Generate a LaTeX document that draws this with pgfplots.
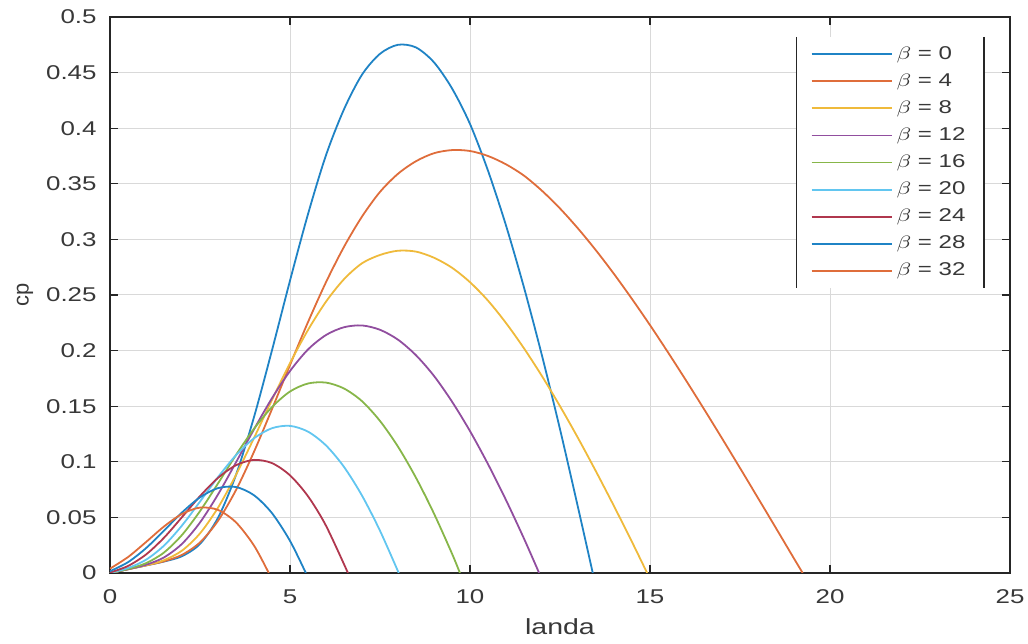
\documentclass[border=0pt]{standalone}
\usepackage{fontspec}
\setmainfont{Liberation Sans}
\usepackage{graphicx}
\usepackage{pgfplots}
\pgfplotsset{compat=1.18}
\definecolor{mb}{RGB}{0,114,189}
\definecolor{mo}{RGB}{217,83,25}
\definecolor{my}{RGB}{237,177,32}
\definecolor{mp}{RGB}{126,47,142}
\definecolor{mg}{RGB}{119,172,48}
\definecolor{mc}{RGB}{77,190,238}
\definecolor{mr}{RGB}{162,20,47}
\definecolor{axc}{RGB}{38,38,38}
\newcommand\sx[1]{\scalebox{1.3}[1]{#1}}
\begin{document}
\begin{tikzpicture}
\begin{axis}[
  scale only axis,
  width=450bp, height=278bp,
  xmin=0, xmax=25, ymin=0, ymax=0.5,
  xtick={0,5,10,15,20,25},
  ytick={0,0.05,0.1,0.15,0.2,0.25,0.3,0.35,0.4,0.45,0.5},
  yticklabels={\sx{0},\sx{0.05},\sx{0.1},\sx{0.15},\sx{0.2},\sx{0.25},\sx{0.3},\sx{0.35},\sx{0.4},\sx{0.45},\sx{0.5}},
  xticklabels={\sx{0},\sx{5},\sx{10},\sx{15},\sx{20},\sx{25}},
  tick align=inside, tick pos=both,
  major tick length=4bp,
  every tick/.style={axc, line width=0.6bp},
  axis line style={axc, line width=0.6bp},
  grid=major,
  major grid style={line width=0.5bp, draw=black!15},
  tick label style={font=\fontsize{10}{11}\selectfont, text=black!78},
  xticklabel style={anchor=center, yshift=-12bp},
  yticklabel style={xshift=-3.2bp},
  /pgf/number format/assume math mode=true,
  xlabel={\sx{landa}}, ylabel={cp},
  every axis x label/.style={at={(axis description cs:0.5,0)}, anchor=center, yshift=-27bp, font=\fontsize{11}{12}\selectfont, text=black!78},
  every axis y label/.style={at={(axis description cs:0,0.5)}, anchor=center, rotate=90, yshift=42.5bp, font=\fontsize{11}{12}\selectfont, text=black!78},
  legend cell align=left,
  legend style={name=leg, at={(0.971,0.964)}, anchor=north east, draw=none, fill=white,
    font=\fontsize{9.3}{10}\selectfont, text=black!78, row sep=1.6bp, inner xsep=7bp, inner ysep=2.5bp},
  legend image code/.code={\draw[#1, line width=0.9bp] (0bp,0bp) -- (40bp,0bp);},
  every axis plot/.append style={line width=0.9bp, smooth, tension=0.5},
]
\addplot[mb!88!white] coordinates {(0,0) (0.5,0.0034) (1,0.0068) (1.5,0.0103) (2,0.0151) (2.5,0.0261) (3,0.0496) (3.5,0.0882) (4,0.1402) (4.5,0.2003) (5,0.2629) (5.5,0.3227) (6,0.3757) (6.5,0.4170) (7,0.4481) (7.5,0.4669) (8,0.4750) (8.5,0.4726) (9,0.4592) (9.5,0.4358) (10,0.4038) (10.5,0.3618) (11,0.3125) (11.5,0.2567) (12,0.1954) (12.5,0.1293) (13,0.0590) (13.41,0)};
\addlegendentry{\sx{$\beta$ = 0}}
\addplot[mo!85!white] coordinates {(0,0) (1,0.0068) (1.5,0.0105) (2,0.0163) (2.5,0.0275) (3,0.0469) (3.5,0.0746) (4,0.1090) (4.5,0.1474) (5,0.1870) (5.5,0.2256) (6,0.2615) (6.5,0.2933) (7,0.3205) (7.5,0.3427) (8,0.3590) (8.5,0.3703) (9,0.3775) (9.5,0.3803) (10,0.3795) (10.5,0.3750) (11,0.3675) (11.5,0.3573) (12,0.3437) (12.5,0.3278) (13,0.3098) (13.5,0.2901) (14,0.2689) (14.5,0.2464) (15,0.2229) (15.5,0.1984) (16,0.1732) (16.5,0.1474) (17,0.1211) (17.5,0.0944) (18,0.0674) (18.5,0.0403) (19,0.0130) (19.24,0)};
\addlegendentry{\sx{$\beta$ = 4}}
\addplot[my!88!white] coordinates {(0,0) (1,0.0069) (1.5,0.0115) (2,0.0201) (2.5,0.0356) (3,0.0587) (3.5,0.0882) (4,0.1214) (4.5,0.1557) (5,0.1887) (5.5,0.2185) (6,0.2440) (6.5,0.2642) (7,0.2785) (7.5,0.2860) (8,0.2898) (8.5,0.2890) (9,0.2835) (9.5,0.2745) (10,0.2615) (10.5,0.2449) (11,0.2248) (11.5,0.2020) (12,0.1770) (12.5,0.1500) (13,0.1214) (13.5,0.0913) (14,0.0601) (14.5,0.0279) (14.92,0)};
\addlegendentry{\sx{$\beta$ = 8}}
\addplot[mp!85!white] coordinates {(0,0) (0.5,0.0034) (1,0.0074) (1.5,0.0140) (2,0.0262) (2.5,0.0454) (3,0.0706) (3.5,0.0995) (4,0.1292) (4.5,0.1572) (5,0.1816) (5.5,0.2010) (6,0.2140) (6.5,0.2210) (7,0.2226) (7.5,0.2187) (8,0.2098) (8.5,0.1958) (9,0.1772) (9.5,0.1541) (10,0.1276) (10.5,0.0979) (11,0.0656) (11.5,0.0309) (11.92,0)};
\addlegendentry{\sx{$\beta$ = 12}}
\addplot[mg!88!white] coordinates {(0,0) (0.5,0.0036) (1,0.0088) (1.5,0.0184) (2,0.0342) (2.5,0.0556) (3,0.0805) (3.5,0.1061) (4,0.1297) (4.5,0.1492) (5,0.1632) (5.5,0.1704) (6,0.1712) (6.5,0.1659) (7,0.1545) (7.5,0.1367) (8,0.1136) (8.5,0.0856) (9,0.0534) (9.5,0.0174) (9.72,0)};
\addlegendentry{\sx{$\beta$ = 16}}
\addplot[mc!88!white] coordinates {(0,0.0001) (0.5,0.0044) (1,0.0119) (1.5,0.0246) (2,0.0427) (2.5,0.0642) (3,0.0862) (3.5,0.1059) (4,0.1211) (4.5,0.1302) (5,0.1323) (5.5,0.1271) (6,0.1147) (6.5,0.0954) (7,0.0696) (7.5,0.0380) (8.02,0)};
\addlegendentry{\sx{$\beta$ = 20}}
\addplot[mr!85!white] coordinates {(0,0.0004) (0.5,0.0063) (1,0.0166) (1.5,0.0317) (2,0.0502) (2.5,0.0691) (3,0.0855) (3.5,0.0969) (4,0.1017) (4.5,0.0988) (5,0.0878) (5.5,0.0690) (6,0.0425) (6.61,0)};
\addlegendentry{\sx{$\beta$ = 24}}
\addplot[mb!88!white] coordinates {(0,0.0016) (0.5,0.0097) (1,0.0223) (1.5,0.0381) (2,0.0544) (2.5,0.0680) (3,0.0763) (3.5,0.0773) (4,0.0699) (4.5,0.0538) (5,0.0289) (5.44,0)};
\addlegendentry{\sx{$\beta$ = 28}}
\addplot[mo!85!white] coordinates {(0,0.0039) (0.5,0.0143) (1,0.0278) (1.5,0.0418) (2,0.0531) (2.5,0.0588) (3,0.0567) (3.5,0.0455) (4,0.0247) (4.41,0)};
\addlegendentry{\sx{$\beta$ = 32}}
\end{axis}
\draw[axc, line width=0.7bp] (leg.north west) -- (leg.south west);
\draw[axc, line width=0.7bp] (leg.north east) -- (leg.south east);
\pgfresetboundingbox
\path (current axis.south west) ++(-55bp,-35.5bp) coordinate (bbA);
\path (current axis.north east) ++(9bp,8.5bp) coordinate (bbB);
\useasboundingbox (bbA) rectangle (bbB);
\end{tikzpicture}
\end{document}
